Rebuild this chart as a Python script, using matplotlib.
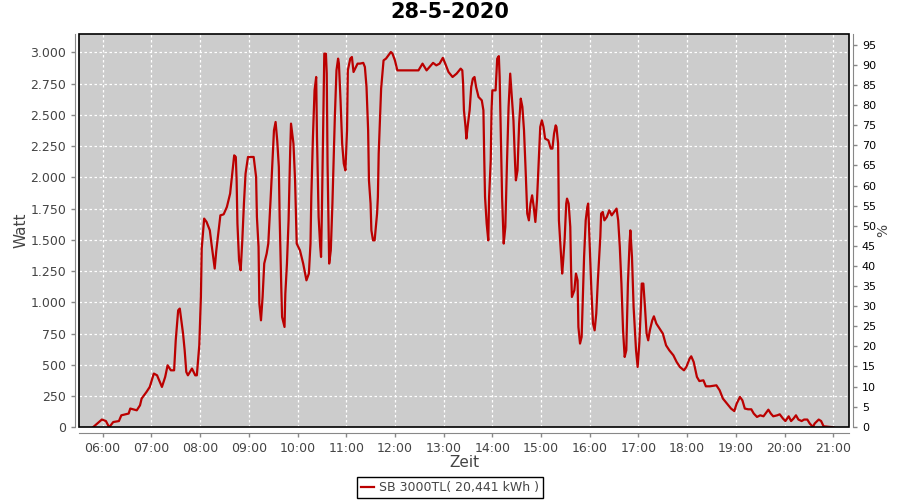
import matplotlib
matplotlib.use("Agg")
import matplotlib.pyplot as plt
from matplotlib.patches import Rectangle
from matplotlib.ticker import FuncFormatter, MultipleLocator

title = "28-5-2020"
series_name = "SB 3000TL( 20,441 kWh )"

# (time, watt)
times = ["05:48", "05:59", "06:04", "06:08", "06:13", "06:20", "06:23", "06:32", "06:34", "06:42",
         "06:46", "06:48", "06:54", "06:58", "07:03", "07:07", "07:13", "07:17", "07:20", "07:24",
         "07:28", "07:30", "07:33", "07:35", "07:39", "07:41", "07:43", "07:45", "07:50", "07:54",
         "07:56", "07:59", "08:01", "08:02", "08:05", "08:08", "08:12", "08:14", "08:18", "08:20",
         "08:24", "08:25", "08:29", "08:33", "08:37", "08:40", "08:42", "08:44", "08:45", "08:46",
         "08:48", "08:50", "08:52", "08:54", "08:56", "08:59", "09:06", "09:09", "09:10", "09:12",
         "09:13", "09:15", "09:17", "09:19", "09:22", "09:24", "09:27", "09:29", "09:31", "09:33",
         "09:35", "09:37", "09:38", "09:40", "09:41", "09:44", "09:45", "09:47", "09:49", "09:51",
         "09:52", "09:55", "09:57", "09:59", "10:03", "10:07", "10:11", "10:14", "10:16", "10:17",
         "10:19", "10:21", "10:23", "10:24", "10:26", "10:28", "10:29", "10:30", "10:32", "10:33",
         "10:35", "10:36", "10:37", "10:39", "10:41", "10:43", "10:44", "10:46", "10:48", "10:50",
         "10:51", "10:53", "10:55", "10:57", "10:59", "11:01", "11:02", "11:05", "11:07", "11:09",
         "11:11", "11:14", "11:17", "11:21", "11:23", "11:25", "11:27", "11:28", "11:30", "11:31",
         "11:33", "11:35", "11:38", "11:39", "11:40", "11:42", "11:43", "11:46", "11:49", "11:52",
         "11:55", "11:57", "12:00", "12:03", "12:06", "12:25", "12:29", "12:34", "12:39", "12:47",
         "12:51", "12:55", "12:59", "13:02", "13:06", "13:11", "13:16", "13:21", "13:23", "13:24",
         "13:25", "13:27", "13:28", "13:30", "13:32", "13:34", "13:36", "13:38", "13:40", "13:43",
         "13:47", "13:49", "13:50", "13:51", "13:53", "13:55", "13:56", "13:58", "13:59", "14:00",
         "14:04", "14:06", "14:08", "14:09", "14:11", "14:12", "14:14", "14:16", "14:18", "14:20",
         "14:22", "14:24", "14:26", "14:28", "14:29", "14:31", "14:33", "14:35", "14:37", "14:39",
         "14:41", "14:43", "14:45", "14:47", "14:49", "14:51", "14:53", "14:55", "14:57", "14:59",
         "15:01", "15:03", "15:05", "15:09", "15:12", "15:14", "15:16", "15:18", "15:19", "15:21",
         "15:22", "15:24", "15:26", "15:27", "15:29", "15:31", "15:32", "15:34", "15:36", "15:37",
         "15:38", "15:41", "15:43", "15:45", "15:46", "15:48", "15:50", "15:51", "15:53", "15:55",
         "15:57", "15:58", "16:00", "16:02", "16:04", "16:06", "16:08", "16:10", "16:13", "16:14",
         "16:16", "16:18", "16:21", "16:24", "16:27", "16:30", "16:33", "16:35", "16:37", "16:39",
         "16:41", "16:43", "16:45", "16:47", "16:49", "16:50", "16:52", "16:54", "16:57", "16:59",
         "17:01", "17:03", "17:04", "17:06", "17:08", "17:10", "17:12", "17:14", "17:17", "17:19",
         "17:22", "17:26", "17:30", "17:34", "17:38", "17:43", "17:47", "17:51", "17:56", "17:59",
         "18:03", "18:05", "18:08", "18:12", "18:15", "18:20", "18:23", "18:28", "18:36", "18:40",
         "18:44", "18:49", "18:54", "18:58", "19:01", "19:05", "19:08", "19:11", "19:15", "19:19",
         "19:22", "19:26", "19:30", "19:34", "19:37", "19:40", "19:43", "19:46", "19:51", "19:54",
         "19:58", "20:01", "20:05", "20:08", "20:11", "20:14", "20:17", "20:21", "20:24", "20:28",
         "20:31", "20:35", "20:37", "20:42", "20:45", "20:48", "21:00"]

watt = [0, 62, 50, 0, 42, 50, 96, 110, 150, 136,
        176, 230, 283, 323, 430, 416, 323, 403, 496, 456,
        456, 696, 936, 950, 750, 616, 443, 416, 470, 416,
        416, 656, 1043, 1430, 1670, 1643, 1576, 1470, 1270, 1416,
        1643, 1696, 1704, 1763, 1870, 2056, 2176, 2163, 1976, 1630,
        1336, 1256, 1496, 1790, 2030, 2163, 2163, 2003, 1683, 1443,
        990, 856, 1043, 1310, 1390, 1470, 1843, 2110, 2376, 2443,
        2296, 2083, 1683, 1123, 883, 803, 1070, 1310, 1656, 2216,
        2430, 2270, 1976, 1470, 1416, 1310, 1176, 1230, 1470, 1843,
        2323, 2696, 2803, 2323, 1683, 1443, 1363, 1710, 2536, 2990,
        2990, 2830, 2110, 1310, 1416, 1790, 2030, 2483, 2856, 2950,
        2910, 2616, 2270, 2110, 2056, 2376, 2856, 2950, 2963, 2843,
        2870, 2910, 2910, 2916, 2883, 2723, 2376, 1976, 1790, 1576,
        1496, 1496, 1710, 1843, 2190, 2536, 2710, 2936, 2950, 2976,
        3003, 2990, 2936, 2856, 2856, 2856, 2856, 2910, 2856, 2916,
        2896, 2910, 2956, 2910, 2843, 2803, 2830, 2870, 2856, 2750,
        2536, 2403, 2310, 2430, 2536, 2723, 2790, 2803, 2723, 2643,
        2616, 2536, 2163, 1843, 1630, 1496, 1843, 2136, 2536, 2696,
        2696, 2950, 2970, 2803, 2190, 1843, 1470, 1603, 2110, 2563,
        2830, 2643, 2456, 2110, 1976, 2056, 2430, 2630, 2563, 2376,
        2056, 1710, 1656, 1790, 1856, 1763, 1643, 1816, 2110, 2403,
        2456, 2403, 2310, 2296, 2230, 2230, 2350, 2416, 2403, 2270,
        1656, 1443, 1230, 1310, 1496, 1790, 1830, 1790, 1603, 1256,
        1043, 1096, 1230, 1176, 803, 670, 723, 936, 1363, 1656,
        1763, 1790, 1443, 1096, 830, 776, 910, 1176, 1523, 1710,
        1723, 1656, 1683, 1736, 1696, 1723, 1750, 1656, 1443, 1150,
        776, 563, 616, 1150, 1470, 1576, 1363, 963, 616, 483,
        670, 963, 1150, 1150, 963, 750, 696, 776, 856, 888,
        830, 790, 750, 656, 616, 576, 523, 483, 456, 483,
        550, 568, 523, 403, 370, 376, 328, 328, 336, 296,
        230, 190, 150, 130, 190, 243, 216, 150, 144, 144,
        110, 83, 96, 88, 115, 141, 110, 88, 96, 104,
        70, 50, 88, 50, 70, 96, 62, 50, 62, 62,
        30, 3, 30, 62, 50, 8, 0]

hour_ticks = list(range(6, 22))
watt_ticks = list(range(0, 3001, 250))
pct_ticks = list(range(0, 96, 5))


def to_hours(s):
    h, m = s.split(":")
    return int(h) + int(m) / 60


x = [to_hours(t) for t in times]

txt = "#444444"
plt.rcParams["font.family"] = "DejaVu Sans"

fig = plt.figure(figsize=(9, 5), dpi=100)
ax = fig.add_axes([0.0881, 0.1454, 0.8549, 0.7866])
ax.set_facecolor("#CCCCCC")

ax.plot(x, watt, color="#BB0000", lw=1.6, label=series_name, zorder=3)

ax.set_xlim(5.52, 21.316)
ax.set_ylim(0, 3147)
ax.set_xticks(hour_ticks)
ax.set_xticklabels([f"{h:02d}:00" for h in hour_ticks])
ax.set_yticks(watt_ticks)
ax.yaxis.set_major_formatter(FuncFormatter(lambda v, p: f"{int(v):,}".replace(",", ".")))
ax.grid(True, color="white", linestyle=(0, (2, 2)), lw=0.9)
ax.set_axisbelow(True)

for s in ["top", "right"]:
    ax.spines[s].set_visible(False)
ax.spines["left"].set_position(("outward", 3))
ax.spines["bottom"].set_position(("outward", 4))
for s in ["left", "bottom"]:
    ax.spines[s].set_color("#888888")
ax.tick_params(axis="both", colors="#888888", labelcolor=txt, labelsize=9, length=3, width=1)
ax.set_ylabel("Watt", fontsize=11, color=txt, labelpad=1)
ax.set_xlabel("Zeit", fontsize=11, color=txt, labelpad=0)

# plot outline
ax.add_patch(Rectangle((0, 0), 1, 1, transform=ax.transAxes, fill=False,
                       edgecolor="black", lw=1.2, clip_on=False, zorder=5))

ax2 = ax.twinx()
ax2.set_ylim(-0.15, 97.7)
ax2.set_yticks(pct_ticks)
ax2.yaxis.set_minor_locator(MultipleLocator(5))
for s in ["top", "left", "bottom"]:
    ax2.spines[s].set_visible(False)
ax2.spines["right"].set_position(("outward", 3))
ax2.spines["right"].set_color("#888888")
ax2.tick_params(axis="y", colors="#888888", labelcolor="black", labelsize=8, length=3, width=1)
ax2.set_ylabel("%", fontsize=10, color=txt, labelpad=0)

fig.suptitle(title, fontsize=15, fontweight="bold", y=0.995)

leg = ax.legend(loc="center", bbox_to_anchor=(0.5, 0.025), bbox_transform=fig.transFigure,
                frameon=True, fancybox=False, edgecolor="black", framealpha=1,
                fontsize=9, handlelength=1.1, handletextpad=0.4, borderpad=0.3)
leg.get_frame().set_linewidth(1)
for t in leg.get_texts():
    t.set_color(txt)

fig.savefig("out.png", dpi=100)
